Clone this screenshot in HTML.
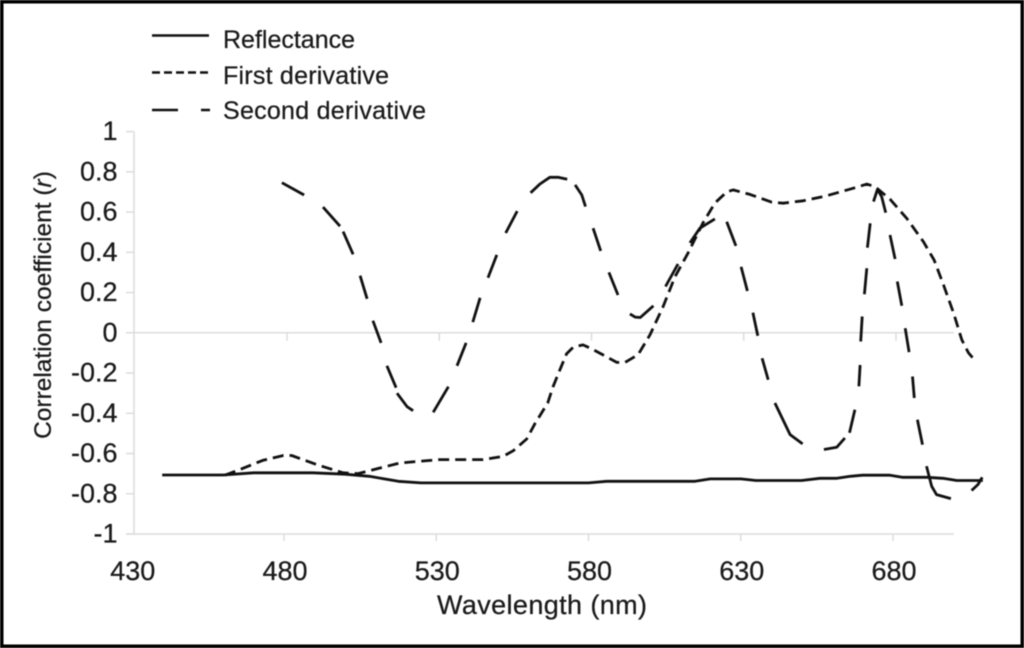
<!DOCTYPE html>
<html lang="en">
<head>
<meta charset="utf-8">
<title>Correlation coefficient by wavelength</title>
<style>
  html, body { margin: 0; padding: 0; background: #fff; }
  body { width: 1024px; height: 648px; overflow: hidden; }
  svg { display: block; filter: blur(0.45px); }
  text { font-family: "Liberation Sans", sans-serif; fill: #1a1a1a; stroke: #1a1a1a; stroke-width: 0.25px; }
</style>
</head>
<body>
<svg id="chart" xmlns="http://www.w3.org/2000/svg" width="1024" height="648" viewBox="0 0 1024 648">
  <rect x="0" y="0" width="1024" height="648" fill="#fff"/>
  <g id="axes"></g>
  <g id="series"></g>
  <g>
    <line x1="152" x2="209" y1="35.5" y2="35.5" stroke="#111" stroke-width="2.6"/>
    <text x="223" y="48" font-size="25" textLength="132">Reflectance</text>
    <line x1="152" x2="210" y1="72.5" y2="72.5" stroke="#111" stroke-width="2.6" stroke-dasharray="8 4"/>
    <text x="223" y="84" font-size="25" textLength="166">First derivative</text>
    <line x1="152" x2="210" y1="110" y2="110" stroke="#111" stroke-width="2.6" stroke-dasharray="26 23"/>
    <text x="223" y="119" font-size="25" textLength="203">Second derivative</text>
  </g>
  <text x="542" y="614" font-size="27" text-anchor="middle" textLength="210">Wavelength (nm)</text>
  <text transform="translate(51 305) rotate(-90)" font-size="24.5" text-anchor="middle">Correlation coefficient (<tspan font-style="italic">r</tspan>)</text>
  <rect x="1.75" y="1.75" width="1020.5" height="644.5" fill="none" stroke="#000" stroke-width="3.5"/>
</svg>
<script>
const xTickLabels = [430, 480, 530, 580, 630, 680];
const yTickLabels = [1, 0.8, 0.6, 0.4, 0.2, 0, -0.2, -0.4, -0.6, -0.8, -1];

const reflectanceWl = [440, 460, 470, 489.5, 500, 508, 517.5, 525, 580, 586, 615, 620, 630, 635, 650, 656, 661.6, 666, 670, 679, 683, 691, 696.4, 701, 709.5];
const reflectanceR = [-0.707, -0.707, -0.696, -0.696, -0.703, -0.713, -0.738, -0.746, -0.746, -0.738, -0.738, -0.726, -0.726, -0.734, -0.734, -0.723, -0.723, -0.713, -0.708, -0.708, -0.718, -0.718, -0.723, -0.734, -0.734];

const firstWl = [460.6, 465.5, 473, 479.8, 482.5, 490.7, 499.4, 504.3, 518, 531, 545.4, 552, 555.3, 559.7, 562.4, 566.6, 568.4, 570.6, 572.8, 575, 578.2, 581, 584.3, 589.3, 592, 596.3, 600.2, 604.5, 608.4, 612.7, 617.6, 621.5, 625.4, 627.5, 633, 640.2, 643.9, 650.5, 658.2, 668, 671.4, 674.1, 679, 684.5, 690, 693.5, 696.6, 699.9, 702.6, 704.8, 707.2];
const firstR = [-0.708, -0.68, -0.634, -0.61, -0.61, -0.655, -0.696, -0.70, -0.647, -0.63, -0.63, -0.614, -0.586, -0.528, -0.452, -0.349, -0.266, -0.184, -0.104, -0.071, -0.06, -0.079, -0.106, -0.147, -0.147, -0.109, -0.01, 0.13, 0.279, 0.397, 0.546, 0.645, 0.70, 0.71, 0.688, 0.649, 0.644, 0.656, 0.681, 0.723, 0.739, 0.726, 0.664, 0.569, 0.453, 0.362, 0.238, 0.098, -0.035, -0.10, -0.142];

const secondWl = [479.3, 486.6, 492.8, 498.4, 499.4, 502.7, 505, 507.3, 509.2, 511.9, 513.8, 516.8, 517.1, 520.4, 522.4, 529, 534, 536.8, 539.8, 542, 544.4, 547, 549.9, 552.8, 556.6, 561, 564, 567.3, 570, 573, 575.6, 577.8, 579, 581.5, 584, 586.7, 589.7, 593.6, 595.3, 597, 601.3, 605.3, 609.4, 613.3, 616.6, 621.5, 625.4, 628.4, 630.1, 632.2, 634, 635.6, 637, 639, 641.2, 646.2, 650.3, 657.3, 661.5, 664.2, 665.7, 667.5, 668.8, 669.2, 669.4, 669.9, 670.6, 671.4, 671.6, 672.5, 673.6, 674.9, 676.3, 677.6, 679, 680.7, 681.4, 682.9, 684, 685.3, 686.4, 687, 688, 689.7, 691, 692.7, 694.3, 699, 705.8, 707.9, 709.3];
const secondR = [0.746, 0.685, 0.625, 0.53, 0.503, 0.39, 0.284, 0.169, 0.06, -0.05, -0.164, -0.273, -0.30, -0.367, -0.387, -0.395, -0.268, -0.164, -0.05, 0.053, 0.174, 0.274, 0.387, 0.496, 0.605, 0.696, 0.739, 0.773, 0.773, 0.763, 0.735, 0.685, 0.627, 0.52, 0.407, 0.30, 0.188, 0.094, 0.078, 0.076, 0.134, 0.23, 0.342, 0.447, 0.52, 0.566, 0.552, 0.432, 0.328, 0.208, 0.10, -0.015, -0.126, -0.233, -0.349, -0.506, -0.552, -0.58, -0.569, -0.523, -0.497, -0.382, -0.266, -0.16, -0.043, 0.081, 0.192, 0.321, 0.423, 0.544, 0.652, 0.713, 0.676, 0.597, 0.486, 0.367, 0.255, 0.134, 0.023, -0.096, -0.217, -0.324, -0.432, -0.556, -0.663, -0.763, -0.804, -0.824, -0.784, -0.754, -0.718];
const secondDashEnds = [486.6, 498.4, 502.7, 507.3, 511.9, 516.8, 522.4, 534, 539.8, 544.4, 549.9, 556.6, 573, 579, 584, 589.7, 601.3, 609.4, 621.5, 628.4, 632.2, 635.6, 639, 650.3, 664.2, 667.5, 669.2, 669.9, 671.4, 672.5, 677.6, 680.7, 682.9, 685.3, 687, 689.7, 699];

const SVG_NS = 'http://www.w3.org/2000/svg';
const axesGroup = document.getElementById('axes');
const seriesGroup = document.getElementById('series');
const AXIS_COLOR = '#dcdcdc';

function xScale(wl) { return 284 + (wl - 480) * 3.045; }
function yScale(r) { return 332.8 - r * 201.2; }

function makeLine(x1, y1, x2, y2) {
  const el = document.createElementNS(SVG_NS, 'line');
  el.setAttribute('x1', x1);
  el.setAttribute('y1', y1);
  el.setAttribute('x2', x2);
  el.setAttribute('y2', y2);
  el.setAttribute('stroke', AXIS_COLOR);
  el.setAttribute('stroke-width', '1.5');
  axesGroup.appendChild(el);
  return el;
}

const yAxisLine = makeLine(134, yScale(1), 134, yScale(-1));



const xAxisLine = makeLine(126, yScale(-1), xScale(700), yScale(-1));



const zeroLine = makeLine(126, yScale(0), xScale(700), yScale(0));



yTickLabels.forEach(function (v) {
  const tick = makeLine(126, yScale(v), 134, yScale(v));
  
  
  const label = document.createElementNS(SVG_NS, 'text');
  
  
  label.setAttribute('x', 117.5);
  label.setAttribute('y', yScale(v) + 8.5);
  label.setAttribute('font-size', '27');
  label.setAttribute('text-anchor', 'end');
  label.textContent = String(v);
  axesGroup.appendChild(label);
});

xTickLabels.forEach(function (v, i) {
  const px = xScale(v);
  if (i > 0) {
    const bottomTick = makeLine(px, yScale(-1), px, yScale(-1) + 7);
    
    
    const zeroTick = makeLine(px + 3, yScale(0), px + 3, yScale(0) + 8);
    
    
  }
  const label = document.createElementNS(SVG_NS, 'text');
  
  
  label.setAttribute('x', px + 1);
  label.setAttribute('y', 580);
  label.setAttribute('font-size', '27');
  label.setAttribute('text-anchor', 'middle');
  label.textContent = String(v);
  axesGroup.appendChild(label);
});

function drawSeries(wls, rs, dash, dashEnds) {
  let d = '';
  let penUp = true;
  wls.forEach(function (w, i) {
    d += (penUp ? 'M' : 'L') + xScale(w).toFixed(1) + ' ' + yScale(rs[i]).toFixed(1) + ' ';
    penUp = dashEnds ? dashEnds.indexOf(w) !== -1 : false;
  });
  const el = document.createElementNS(SVG_NS, 'path');
  el.setAttribute('d', d);
  el.setAttribute('fill', 'none');
  el.setAttribute('stroke', '#111');
  el.setAttribute('stroke-width', '2.8');
  el.setAttribute('stroke-linejoin', 'round');
  if (dash) el.setAttribute('stroke-dasharray', dash);
  seriesGroup.appendChild(el);
  return el;
}

const reflectanceLine = drawSeries(reflectanceWl, reflectanceR, null, null);



const firstLine = drawSeries(firstWl, firstR, '11 6', null);



const secondLine = drawSeries(secondWl, secondR, null, secondDashEnds);


</script>
</body>
</html>
